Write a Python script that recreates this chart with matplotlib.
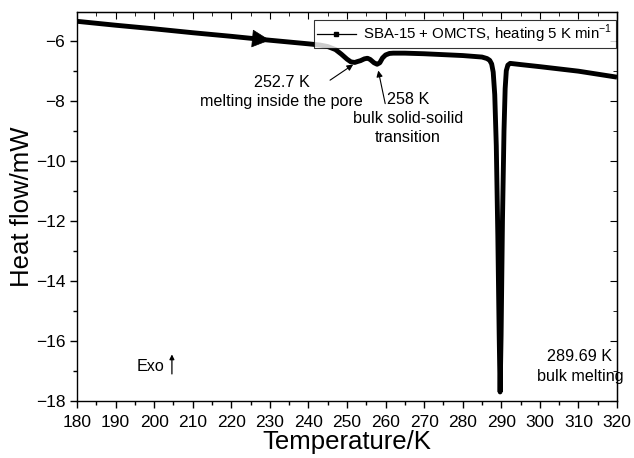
import matplotlib
matplotlib.use("Agg")
import matplotlib.pyplot as plt
from matplotlib.ticker import MultipleLocator

plt.rcParams['font.family'] = ['Liberation Sans', 'DejaVu Sans']
plt.rcParams['mathtext.fontset'] = 'custom'
plt.rcParams['mathtext.rm'] = 'Liberation Sans'

temperature = [180, 190, 200, 210, 220, 230, 240, 243, 245, 247, 248.5, 250, 251, 252, 252.7,
               253.5, 254.5, 255.3, 256, 257, 257.8, 258.5, 259.2, 260, 261, 262, 265, 270, 280,
               285, 286.3, 287.0, 287.5, 287.9, 288.3, 288.7, 289.1, 289.45, 289.69, 289.95,
               290.3, 290.7, 291.0, 291.3, 291.7, 292.3, 295, 300, 310, 320]
heat_flow = [-5.36, -5.49, -5.61, -5.74, -5.86, -5.99, -6.11, -6.15, -6.20, -6.30, -6.45, -6.62,
             -6.71, -6.73, -6.70, -6.67, -6.61, -6.59, -6.63, -6.74, -6.79, -6.74, -6.58, -6.48,
             -6.43, -6.42, -6.42, -6.44, -6.50, -6.55, -6.60, -6.66, -6.78, -7.05, -7.8, -9.5,
             -12.5, -15.8, -17.7, -15.8, -12.0, -9.0, -7.6, -7.0, -6.82, -6.76, -6.80, -6.87,
             -7.02, -7.22]

series_label = 'SBA-15 + OMCTS, heating 5 K min$^{\\mathregular{-1}}$'
x_ticks = list(range(180, 321, 10))
y_ticks = [-18, -16, -14, -12, -10, -8, -6]

fig = plt.figure(figsize=(6.34, 4.58), dpi=100)
ax = fig.add_axes([0.1215, 0.1245, 0.9732 - 0.1215, 0.9738 - 0.1245])

ax.plot(temperature, heat_flow, color='black', lw=3.5, solid_joinstyle='round',
        solid_capstyle='butt')
# legend proxy
ax.plot([], [], color='black', lw=0.9, marker='s', markersize=2.5, label=series_label)

ax.set_xlim(180, 320)
ax.set_ylim(-18, -5.05)
ax.set_xticks(x_ticks)
ax.set_yticks(y_ticks)
ax.xaxis.set_minor_locator(MultipleLocator(5))
ax.yaxis.set_minor_locator(MultipleLocator(1))

ax.tick_params(axis='both', which='both', direction='out', labelsize=12.5, width=1, colors='black')
ax.tick_params(which='major', length=5)
ax.tick_params(which='minor', length=3)
ax.tick_params(axis='x', pad=5)

ax2 = ax.secondary_xaxis('top')
ax2.set_xticks(x_ticks)
ax2.xaxis.set_minor_locator(MultipleLocator(5))
ax2.tick_params(which='both', direction='in', labeltop=False)
ax2.tick_params(which='major', length=5)
ax2.tick_params(which='minor', length=3)
ax2.set_xticklabels([])
ax3 = ax.secondary_yaxis('right')
ax3.set_yticks(y_ticks)
ax3.yaxis.set_minor_locator(MultipleLocator(1))
ax3.tick_params(which='both', direction='in')
ax3.tick_params(which='major', length=5)
ax3.tick_params(which='minor', length=3)
ax3.set_yticklabels([])

for s in ax.spines.values():
    s.set_linewidth(1.0)

ax.set_xlabel('Temperature/K', fontsize=18.5, labelpad=0)
ax.set_ylabel('Heat flow/mW', fontsize=18.5, labelpad=1)

# direction arrow on the curve
ax.annotate('', xy=(230.0, -5.99), xytext=(222.0, -5.89),
            arrowprops=dict(arrowstyle='-|>', mutation_scale=30, color='black', lw=0.5,
                            shrinkA=0, shrinkB=0))

ann_fs = 11.6
ax.annotate('', xy=(251.6, -6.8), xytext=(245.6, -7.32),
            arrowprops=dict(arrowstyle='-|>', color='black', lw=0.8, mutation_scale=9,
                            shrinkA=0, shrinkB=0))
ax.text(233.0, -7.72, '252.7 K\nmelting inside the pore', ha='center', va='center',
        fontsize=ann_fs, linespacing=1.35)
ax.annotate('', xy=(258.1, -7.0), xytext=(259.9, -8.1),
            arrowprops=dict(arrowstyle='-|>', color='black', lw=0.8, mutation_scale=9,
                            shrinkA=0, shrinkB=0))
ax.text(265.8, -8.6, '258 K\nbulk solid-soilid\ntransition', ha='center', va='center',
        fontsize=ann_fs, linespacing=1.35)
ax.text(310.4, -16.85, '289.69 K\nbulk melting', ha='center', va='center',
        fontsize=ann_fs, linespacing=1.35)

ax.text(195.5, -16.85, 'Exo', ha='left', va='center', fontsize=ann_fs)
ax.annotate('', xy=(204.6, -16.45), xytext=(204.6, -17.1),
            arrowprops=dict(arrowstyle='-|>', color='black', lw=0.9, mutation_scale=7,
                            shrinkA=0, shrinkB=0))

leg = ax.legend(loc='upper right', bbox_to_anchor=(0.9975, 0.98), fontsize=10.8,
                frameon=True, fancybox=False, edgecolor='black', handlelength=2.6,
                borderpad=0.2, handletextpad=0.5, borderaxespad=0)
leg.get_frame().set_linewidth(0.8)

fig.savefig('out.png', dpi=100)
